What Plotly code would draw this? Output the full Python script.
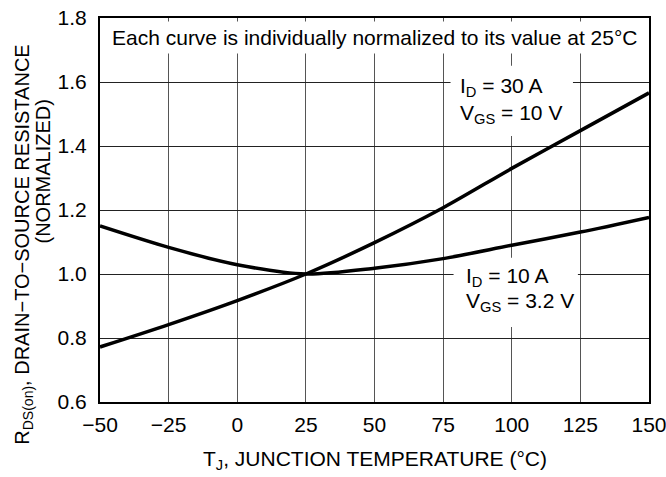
import plotly.graph_objects as go

# Junction temperature (°C)
temp_c = [-50, -25, 0, 25, 50, 75, 100, 125, 150]

# Normalized on-resistance, each curve = 1.0 at 25 °C
rds_30a_10v = [0.772, 0.842, 0.917, 1.000, 1.098, 1.207, 1.330, 1.448, 1.566]
rds_10a_3v2 = [1.150, 1.083, 1.029, 1.000, 1.018, 1.048, 1.090, 1.131, 1.177]

x_ticks = [-50, -25, 0, 25, 50, 75, 100, 125, 150]
y_ticks = [0.6, 0.8, 1.0, 1.2, 1.4, 1.6, 1.8]

FONT = "Liberation Sans, Arial, Helvetica, sans-serif"
FS = 21

fig = go.Figure()
for ys in (rds_30a_10v, rds_10a_3v2):
    fig.add_trace(go.Scatter(
        x=temp_c, y=ys, mode="lines",
        line=dict(color="black", width=3.5, shape="spline", smoothing=0.8),
        showlegend=False, hoverinfo="skip",
    ))

# White panels that mask the grid behind the text blocks
white_boxes = [
    (-50, 150, 1.689, 1.789),
    (77.7, 122.3, 1.431, 1.651),
    (78.8, 124.1, 0.834, 1.051),
]
for x0, x1, y0, y1 in white_boxes:
    fig.add_shape(type="rect", xref="x", yref="y", x0=x0, x1=x1, y0=y0, y1=y1,
                  fillcolor="white", line=dict(width=0), layer="between")

text_font = dict(family=FONT, size=FS, color="black")
fig.add_annotation(x=50, y=1.74, xref="x", yref="y", showarrow=False,
                   text="Each curve is individually normalized to its value at 25°C",
                   font=text_font, xanchor="center", yanchor="middle")

labels = [
    (80.3, 1.585, "I<sub>D</sub> = 30 A"),
    (80.3, 1.500, "V<sub>GS</sub> = 10 V"),
    (82.5, 0.992, "I<sub>D</sub> = 10 A"),
    (82.5, 0.912, "V<sub>GS</sub> = 3.2 V"),
]
for lx, ly, lt in labels:
    fig.add_annotation(x=lx, y=ly, xref="x", yref="y", showarrow=False,
                       text=lt, font=text_font, xanchor="left", yanchor="middle")

# Y axis title, two rotated lines
title_font = dict(family=FONT, size=20, color="black")
fig.add_annotation(x=-0.14, y=0.41, xref="paper", yref="paper", showarrow=False,
                   text="R<sub>DS(on)</sub>, DRAIN\u2212TO\u2212SOURCE RESISTANCE",
                   textangle=-90, font=title_font,
                   xanchor="center", yanchor="middle")
fig.add_annotation(x=-0.104, y=0.60, xref="paper", yref="paper", showarrow=False,
                   text="(NORMALIZED)",
                   textangle=-90, font=title_font,
                   xanchor="center", yanchor="middle")

# X axis title
fig.add_annotation(x=0.5, y=-0.15, xref="paper", yref="paper", showarrow=False,
                   text="T<sub>J</sub>, JUNCTION TEMPERATURE (°C)",
                   font=text_font, xanchor="center", yanchor="middle")

fig.update_xaxes(
    range=[-50, 150], tickvals=x_ticks, ticks="", ticklabelstandoff=3,
    ticklabeloverflow="allow",
    showgrid=True, gridcolor="#555555", gridwidth=1.2, zeroline=False,
    showline=True, linecolor="black", linewidth=2, mirror=True, automargin=False,
    tickfont=text_font,
)
fig.update_yaxes(
    range=[0.6, 1.8], tickvals=y_ticks, tickformat=".1f", ticks="", ticklabelstandoff=7,
    showgrid=True, gridcolor="#222222", gridwidth=1, zeroline=False,
    showline=True, linecolor="black", linewidth=2, mirror=True, automargin=False,
    tickfont=text_font,
)

fig.update_layout(
    width=666, height=477,
    margin=dict(l=100, r=17, t=18, b=75),
    paper_bgcolor="white", plot_bgcolor="white",
    font=dict(family=FONT, color="black"),
)

fig.write_html("out.html")
